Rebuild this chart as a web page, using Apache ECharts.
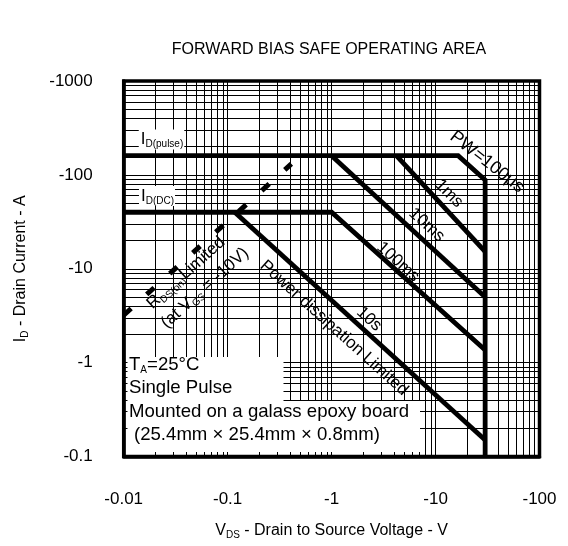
<!DOCTYPE html>
<html>
<head>
<meta charset="utf-8">
<script src="https://cdn.jsdelivr.net/npm/echarts@6/dist/echarts.min.js"></script>
<style>html,body{margin:0;padding:0;background:#fff}#c{width:568px;height:546px}</style>
</head>
<body>
<div id="c"></div>
<script>
// ---- data (magnitudes of V_DS [V] and I_D [A]) ----
const xTickLabels = ['-0.01', '-0.1', '-1', '-10', '-100'];
const yTickLabels = ['-0.1', '-1', '-10', '-100', '-1000'];
const xDecades = [0.01, 0.1, 1, 10];
const yDecades = [0.1, 1, 10, 100];
const minorSteps = [1, 2, 3, 4, 5, 6, 7, 8, 9];

const pw100us = [[0.01, 160], [16.5, 160], [30, 88], [30, 0.1]];
const pw1ms   = [[4.2, 160], [30, 15.2]];
const pw10ms  = [[1.0, 160], [30, 5.0]];
const dcLine  = [[0.01, 40], [1.0, 40], [30, 1.36]];
const pw10s   = [[0.117, 40], [30, 0.15]];
const rdsOn   = [[0.01, 3.2], [0.41, 131]];

const FONT = 'Liberation Sans, Arial, sans-serif';

const gridX = [];
xDecades.forEach(d => minorSteps.forEach(m => { const v = +(m * d).toPrecision(3); if (v > 0.01) gridX.push(v); }));
const gridY = [];
yDecades.forEach(d => minorSteps.forEach(m => { const v = +(m * d).toPrecision(3); if (v > 0.1) gridY.push(v); }));

function labelFrom(list, start) {
  return v => list[Math.round(Math.log10(v) - Math.log10(start))] || '';
}

const chart = echarts.init(document.getElementById('c'), null, { renderer: 'canvas' });

const lineSeries = (data) => ({
  type: 'line', data: data, symbol: 'none', silent: true, z: 4,
  lineStyle: { color: '#000', width: 4.8, join: 'miter', cap: 'butt' }
});

const txt = (text, x, y, deg, size, align) => ({
  type: 'text', x: x, y: y, rotation: deg * Math.PI / 180, z: 5, silent: true,
  style: { text: text, fill: '#000', font: size + 'px ' + FONT, align: align || 'center', verticalAlign: 'middle' }
});

const sub = { fontSize: 10, fontFamily: FONT, color: '#000', verticalAlign: 'bottom', lineHeight: 14 };
const big = (s) => ({ fontSize: s, fontFamily: FONT, color: '#000', lineHeight: 20 });

chart.setOption({
  animation: false,
  backgroundColor: '#fff',
  title: {
    text: 'FORWARD BIAS SAFE OPERATING AREA', left: 324, top: 37, textAlign: 'center',
    textStyle: { fontFamily: FONT, fontSize: 16, fontWeight: 'normal', color: '#000' }
  },
  grid: { left: 123.7, right: 28.5, top: 81, bottom: 89.5, show: true, borderColor: '#000', borderWidth: 3.5, backgroundColor: 'transparent' },
  xAxis: {
    type: 'log', logBase: 10, min: 0.01, max: 100, z: 10,
    axisLine: { lineStyle: { color: '#000', width: 3.5 } },
    axisTick: { show: false }, splitLine: { show: false }, minorTick: { show: false },
    axisLabel: { formatter: labelFrom(xTickLabels, 0.01), fontFamily: FONT, fontSize: 17, color: '#000', margin: 34 },
    name: '{v|V}{s|DS}{v| - Drain to Source Voltage - V}', nameLocation: 'middle', nameGap: 64,
    nameTextStyle: { rich: { v: big(16), s: sub } }
  },
  yAxis: {
    type: 'log', logBase: 10, min: 0.1, max: 1000, z: 10,
    axisLine: { lineStyle: { color: '#000', width: 3.5 } },
    axisTick: { show: false }, splitLine: { show: false }, minorTick: { show: false },
    axisLabel: { formatter: labelFrom(yTickLabels, 0.1), fontFamily: FONT, fontSize: 17, color: '#000', margin: 31 },
    name: '{v|I}{s|D}{v| - Drain Current - A}', nameLocation: 'middle', nameGap: 93,
    nameTextStyle: { rich: { v: big(16), s: sub } }
  },
  graphic: [
    // white panel behind the condition notes
    { type: 'rect', z: 3, silent: true, shape: { x: 127.5, y: 357, width: 156, height: 95 }, style: { fill: '#fff' } },
    { type: 'rect', z: 3, silent: true, shape: { x: 283, y: 401, width: 137, height: 51 }, style: { fill: '#fff' } },
    // I_D labels with white background
    { type: 'text', z: 5, silent: true, x: 161.5, y: 139.5,
      style: { text: '{b|I}{s|D(pulse)}', align: 'center', verticalAlign: 'middle', backgroundColor: '#fff', padding: [0, 1, 0, 2],
        rich: { b: big(17), s: sub } } },
    { type: 'text', z: 5, silent: true, x: 157, y: 196,
      style: { text: '{b|I}{s|D(DC)}', align: 'center', verticalAlign: 'middle', backgroundColor: '#fff', padding: [0, 1, 0, 2],
        rich: { b: big(17), s: sub } } },
    // condition notes
    { type: 'text', z: 5, silent: true, x: 129, y: 365,
      style: { text: '{b|T}{s|A}{b|=25°C}', align: 'left', verticalAlign: 'middle', rich: { b: big(18.6), s: sub } } },
    txt('Single Pulse', 129, 388, 0, 18.6, 'left'),
    txt('Mounted on a galass epoxy board', 129, 411.5, 0, 18.6, 'left'),
    txt('(25.4mm × 25.4mm × 0.8mm)', 134, 435, 0, 18.6, 'left'),
    // curve labels
    txt('PW=100μs', 487, 162, -38, 18),
    txt('1ms', 449, 193.5, -45, 17),
    txt('10ms', 426.7, 225, -42, 17),
    txt('100ms', 398, 262, -42, 17),
    txt('10s', 369, 319, -42, 17),
    txt('Power dissipation Limited', 334, 328, -42, 17),
    { type: 'text', z: 5, silent: true, x: 186, y: 273, rotation: 42 * Math.PI / 180,
      style: { text: '{b|R}{s|DS(on)}{b|Limited}', align: 'center', verticalAlign: 'middle', rich: { b: big(17), s: sub } } },
    { type: 'text', z: 5, silent: true, x: 205, y: 288, rotation: 42 * Math.PI / 180,
      style: { text: '{b|(at V}{s|GS}{b| = -10V)}', align: 'center', verticalAlign: 'middle', rich: { b: big(17), s: sub } } }
  ],
  series: [
    {
      type: 'line', data: [[0.01, 0.1]], symbol: 'none', silent: true, z: 1,
      lineStyle: { width: 0 },
      markLine: {
        z: 1, silent: true, symbol: ['none', 'none'], label: { show: false }, animation: false,
        lineStyle: { color: '#000', width: 1, type: 'solid' },
        emphasis: { disabled: true },
        data: gridX.map(v => ({ xAxis: v })).concat(gridY.map(v => ({ yAxis: v })))
      }
    },
    lineSeries(pw100us),
    lineSeries(pw1ms),
    lineSeries(pw10ms),
    lineSeries(dcLine),
    lineSeries(pw10s),
    {
      type: 'line', data: rdsOn, symbol: 'none', silent: true, z: 4,
      lineStyle: { color: '#000', width: 5, type: [10, 21], cap: 'butt' }
    }
  ]
});
</script>
</body>
</html>
